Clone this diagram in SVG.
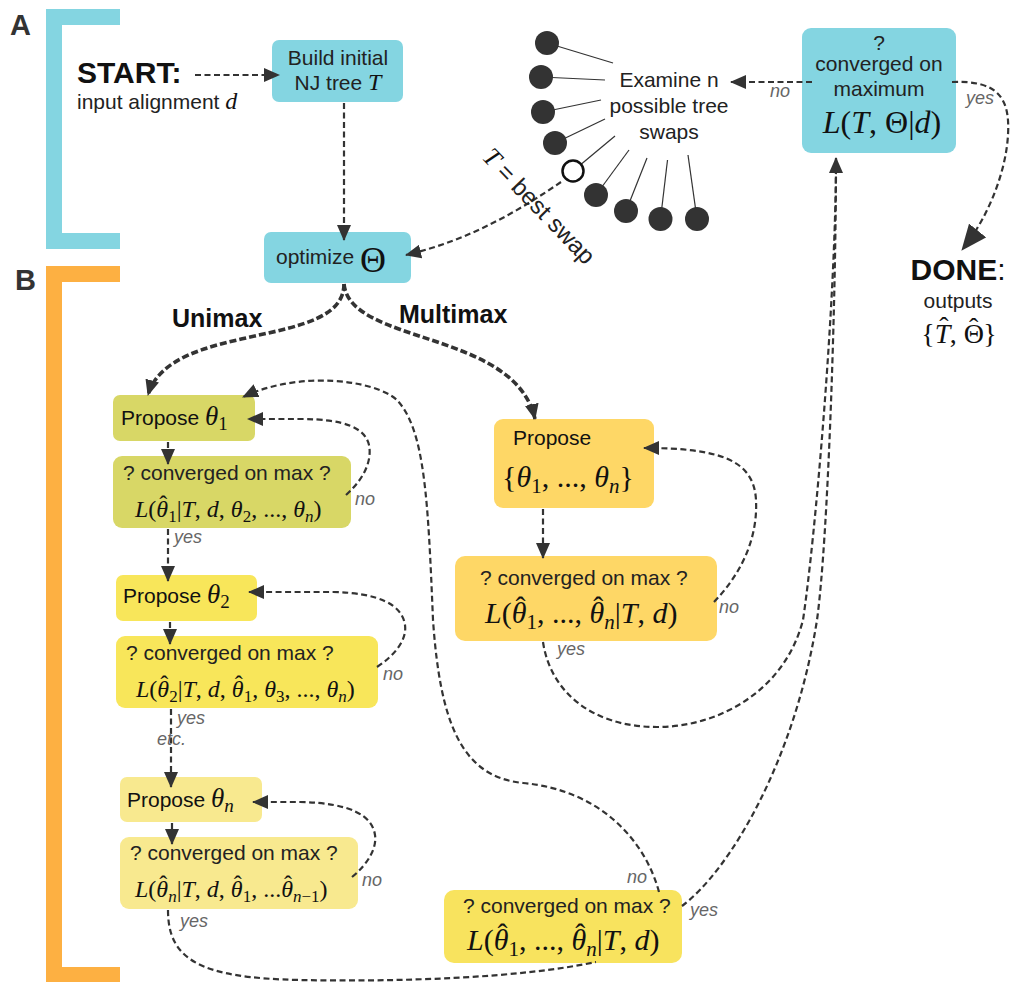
<svg xmlns="http://www.w3.org/2000/svg" width="1011" height="982" viewBox="0 0 1011 982">
<defs>
<style>
.t{font-family:"Liberation Sans",Arial,sans-serif;font-size:21px;fill:#222}
.k{fill:#111}
.b{font-weight:bold}
.m{font-family:"Liberation Serif","Times New Roman",serif;fill:#111}
.i{font-style:italic}
.lb{font-family:"Liberation Sans",Arial,sans-serif;font-size:18px;font-style:italic;fill:#666}
.cn{fill:none;stroke:#333;stroke-width:2.2;stroke-dasharray:6 3.5}
.th{stroke-width:3.6;stroke-dasharray:7 3}
.tl{stroke:#333;stroke-width:1.2}
.dot{fill:#333}
.cy{fill:#84d5e1}.ol{fill:#d8d766}.ye{fill:#f8e65a}.ly{fill:#f8e98f}.go{fill:#fed766}.yb{fill:#f8e35e}
.hd{font-family:"Liberation Sans",Arial,sans-serif;font-weight:bold;font-size:29px;fill:#333}
.big{font-size:30px}
.br{font-size:25px}
</style>
<marker id="ah" viewBox="0 0 16 14" refX="15" refY="7" markerWidth="16" markerHeight="14" markerUnits="userSpaceOnUse" orient="auto"><path d="M0,0 L16,7 L0,14 z" fill="#333"/></marker>
<marker id="ahL" viewBox="0 0 26 22" refX="25" refY="11" markerWidth="26" markerHeight="22" markerUnits="userSpaceOnUse" orient="auto"><path d="M0,0 L26,11 L0,22 z" fill="#333"/></marker>
</defs>
<rect width="1011" height="982" fill="#fff"/>

<g id="bracket-A" class="cy">
<rect x="46" y="9" width="16" height="240"/>
<rect x="46" y="9" width="74" height="16"/>
<rect x="46" y="233" width="74" height="16"/>
<text class="hd" x="10" y="35">A</text>
</g>
<g id="bracket-B" fill="#fdb042">
<rect x="46" y="266" width="16" height="716"/>
<rect x="46" y="266" width="74" height="16"/>
<rect x="46" y="967" width="74" height="15"/>
<text class="hd" x="15" y="290">B</text>
</g>

<g id="start">
<text class="t b k big" x="77" y="83">START:</text>
<text class="t" x="77" y="109">input alignment <tspan class="m i" font-size="24">d</tspan></text>
</g>

<g id="build">
<rect class="cy" x="272" y="40" width="131" height="62" rx="7"/>
<text class="t" x="338" y="65" text-anchor="middle">Build initial</text>
<text class="t" x="338" y="90" text-anchor="middle">NJ tree <tspan class="m i" font-size="24">T</tspan></text>
</g>

<g id="optimize">
<rect class="cy" x="264" y="232" width="147" height="51" rx="7"/>
<text class="t" x="276" y="264">optimize <tspan class="m" font-size="36" dy="8">Θ</tspan></text>
</g>

<g id="swaps">
<g class="tl">
<line x1="547" y1="43" x2="613" y2="63"/>
<line x1="541" y1="77" x2="605" y2="80"/>
<line x1="543" y1="112" x2="601" y2="100"/>
<line x1="555" y1="143" x2="605" y2="119"/>
<line x1="573" y1="171" x2="615" y2="136"/>
<line x1="596" y1="195" x2="629" y2="150"/>
<line x1="626" y1="211" x2="647" y2="158"/>
<line x1="660.5" y1="219" x2="667.5" y2="160"/>
<line x1="697" y1="219" x2="688" y2="155"/>
</g>
<g class="dot">
<circle cx="547" cy="43" r="12"/>
<circle cx="541" cy="77" r="12"/>
<circle cx="543" cy="112" r="12"/>
<circle cx="555" cy="143" r="12"/>
<circle cx="596" cy="195" r="12"/>
<circle cx="626" cy="211" r="12"/>
<circle cx="660.5" cy="219" r="12"/>
<circle cx="697" cy="219" r="12"/>
</g>
<circle cx="573" cy="171" r="10.5" fill="#fff" stroke="#111" stroke-width="2.5"/>
<text class="t" x="669" y="87" text-anchor="middle">Examine n</text>
<text class="t" x="669" y="113" text-anchor="middle">possible tree</text>
<text class="t" x="669" y="139" text-anchor="middle">swaps</text>
</g>

<g id="converged-top">
<rect class="cy" x="802" y="28" width="154" height="125" rx="9"/>
<text class="t" x="879" y="50" text-anchor="middle">?</text>
<text class="t" x="879" y="71" text-anchor="middle">converged on</text>
<text class="t" x="879" y="96" text-anchor="middle">maximum</text>
<text class="m" x="882" y="133" font-size="32" text-anchor="middle"><tspan class="i">L</tspan>(<tspan class="i">T</tspan>, Θ|<tspan class="i">d</tspan>)</text>
</g>

<g id="done">
<text class="t b k big" x="958" y="280" text-anchor="middle">DONE<tspan font-weight="normal">:</tspan></text>
<text class="t" x="958" y="308" text-anchor="middle">outputs</text>
<text class="m" x="959" y="343" font-size="28" text-anchor="middle">{<tspan class="i">T</tspan><tspan dx="-11" dy="-7">ˆ</tspan><tspan dx="1" dy="7">, Θ</tspan><tspan dx="-15" dy="-6">ˆ</tspan><tspan dx="5" dy="6">}</tspan></text>
</g>

<g id="labels-branch">
<text class="t b k br" x="172" y="327">Unimax</text>
<text class="t b k br" x="399" y="323">Multimax</text>
</g>

<g id="propose-1">
<rect class="ol" x="113" y="395" width="142" height="46" rx="7"/>
<text class="t k" x="121" y="425">Propose <tspan class="m i" font-size="27">θ</tspan><tspan class="m" font-size="19" dy="5">1</tspan></text>
</g>
<g id="converged-1">
<rect class="ol" x="113" y="456" width="238" height="72" rx="9"/>
<text class="t" x="123" y="480">? converged on max ?</text>
<text class="m" x="135" y="517" font-size="24"><tspan class="i">L</tspan>(<tspan class="i">θ</tspan><tspan dx="-9" dy="-5">ˆ</tspan><tspan font-size="17" dx="1" dy="10">1</tspan><tspan dy="-5">|</tspan><tspan class="i">T</tspan>, <tspan class="i">d</tspan>, <tspan class="i">θ</tspan><tspan font-size="17" dy="5">2</tspan><tspan dy="-5">, ..., </tspan><tspan class="i">θ</tspan><tspan class="i" font-size="17" dy="5">n</tspan><tspan dy="-5">)</tspan></text>
</g>

<g id="propose-2">
<rect class="ye" x="116" y="575" width="141" height="46" rx="7"/>
<text class="t k" x="123" y="603">Propose <tspan class="m i" font-size="27">θ</tspan><tspan class="m" font-size="19" dy="5">2</tspan></text>
</g>
<g id="converged-2">
<rect class="ye" x="116" y="636" width="262" height="72" rx="9"/>
<text class="t" x="126" y="660">? converged on max ?</text>
<text class="m" x="136" y="697" font-size="24"><tspan class="i">L</tspan>(<tspan class="i">θ</tspan><tspan dx="-9" dy="-5">ˆ</tspan><tspan font-size="17" dx="1" dy="10">2</tspan><tspan dy="-5">|</tspan><tspan class="i">T</tspan>, <tspan class="i">d</tspan>, <tspan class="i">θ</tspan><tspan dx="-9" dy="-5">ˆ</tspan><tspan font-size="17" dx="1" dy="10">1</tspan><tspan dy="-5">, </tspan><tspan class="i">θ</tspan><tspan font-size="17" dy="5">3</tspan><tspan dy="-5">, ..., </tspan><tspan class="i">θ</tspan><tspan class="i" font-size="17" dy="5">n</tspan><tspan dy="-5">)</tspan></text>
</g>

<g id="propose-n">
<rect class="ly" x="120" y="777" width="142" height="45" rx="7"/>
<text class="t k" x="127" y="807">Propose <tspan class="m i" font-size="27">θ</tspan><tspan class="m i" font-size="19" dy="5">n</tspan></text>
</g>
<g id="converged-n">
<rect class="ly" x="120" y="837" width="238" height="72" rx="9"/>
<text class="t" x="130" y="860">? converged on max ?</text>
<text class="m" x="135" y="897" font-size="24"><tspan class="i">L</tspan>(<tspan class="i">θ</tspan><tspan dx="-9" dy="-5">ˆ</tspan><tspan class="i" font-size="17" dx="1" dy="10">n</tspan><tspan dy="-5">|</tspan><tspan class="i">T</tspan>, <tspan class="i">d</tspan>, <tspan class="i">θ</tspan><tspan dx="-9" dy="-5">ˆ</tspan><tspan font-size="17" dx="1" dy="10">1</tspan><tspan dy="-5">, ...</tspan><tspan class="i">θ</tspan><tspan dx="-9" dy="-5">ˆ</tspan><tspan font-size="17" dx="1" dy="10"><tspan class="i">n</tspan>−1</tspan><tspan dy="-5">)</tspan></text>
</g>

<g id="propose-multi">
<rect class="go" x="494" y="419" width="160" height="89" rx="9"/>
<text class="t k" x="513" y="445">Propose</text>
<text class="m" x="502" y="487" font-size="30">{<tspan class="i">θ</tspan><tspan font-size="21" dy="6">1</tspan><tspan dy="-6">, ..., </tspan><tspan class="i">θ</tspan><tspan class="i" font-size="21" dy="6">n</tspan><tspan dy="-6">}</tspan></text>
</g>
<g id="converged-multi">
<rect class="go" x="455" y="556" width="262" height="85" rx="10"/>
<text class="t" x="480" y="585">? converged on max ?</text>
<text class="m" x="485" y="623" font-size="30"><tspan class="i">L</tspan>(<tspan class="i">θ</tspan><tspan dx="-11" dy="-6">ˆ</tspan><tspan font-size="21" dx="1" dy="12">1</tspan><tspan dy="-6">, ..., </tspan><tspan class="i">θ</tspan><tspan dx="-11" dy="-6">ˆ</tspan><tspan class="i" font-size="21" dx="1" dy="12">n</tspan><tspan dy="-6">|</tspan><tspan class="i">T</tspan>, <tspan class="i">d</tspan>)</text>
</g>

<g id="converged-final">
<rect class="yb" x="444" y="890" width="238" height="73" rx="10"/>
<text class="t" x="463" y="913">? converged on max ?</text>
<text class="m" x="467" y="950" font-size="30"><tspan class="i">L</tspan>(<tspan class="i">θ</tspan><tspan dx="-11" dy="-6">ˆ</tspan><tspan font-size="21" dx="1" dy="12">1</tspan><tspan dy="-6">, ..., </tspan><tspan class="i">θ</tspan><tspan dx="-11" dy="-6">ˆ</tspan><tspan class="i" font-size="21" dx="1" dy="12">n</tspan><tspan dy="-6">|</tspan><tspan class="i">T</tspan>, <tspan class="i">d</tspan>)</text>
</g>

<g id="connectors">
<path class="cn" d="M195,75 L279,75" marker-end="url(#ah)"/>
<path class="cn" d="M344,103 L344,240" marker-end="url(#ah)"/>
<path class="cn" d="M561,182 C520,210 470,240 406,255" marker-end="url(#ah)"/>
<path class="cn" stroke-width="2.5" d="M812,82 L731,82" marker-end="url(#ah)"/>
<path class="cn" stroke-width="2.5" d="M952,82 C1000,80 1010,100 1008,135 C1006,170 990,215 962,250" marker-end="url(#ahL)"/>
<path class="cn th" d="M344,284 C344,350 170,320 148,395" marker-end="url(#ah)"/>
<path class="cn th" d="M344,284 C350,345 515,330 535,419" marker-end="url(#ah)"/>
<path class="cn" d="M168,442 L168,464" marker-end="url(#ah)"/>
<path class="cn" d="M346,495 C365,478 372,460 369,445 C365,428 345,419 300,419 L248,419" marker-end="url(#ah)"/>
<path class="cn" d="M168,529 L168,581" marker-end="url(#ah)"/>
<path class="cn" d="M170,622 L170,644" marker-end="url(#ah)"/>
<path class="cn" d="M377,667 C395,655 407,640 405,625 C402,605 380,593 333,592 L249,592" marker-end="url(#ah)"/>
<path class="cn" d="M171,709 L171,787" marker-end="url(#ah)"/>
<path class="cn" d="M172,823 L172,844" marker-end="url(#ah)"/>
<path class="cn" d="M352,877 C368,864 377,848 375,835 C372,815 350,803 300,802 L253,802" marker-end="url(#ah)"/>
<path class="cn" d="M168,910 C168,960 200,978 300,980 C400,982 520,978 596,962"/>
<path class="cn" d="M543,509 L543,558" marker-end="url(#ah)"/>
<path class="cn" d="M714,602 C740,575 758,540 756,500 C754,460 720,448 644,448" marker-end="url(#ah)"/>
<path class="cn" d="M543,642 C550,690 590,727 657,727 C720,727 785,690 803,620 C815,540 836,300 836,158" marker-end="url(#ah)"/>
<path class="cn" d="M682,906 C730,870 795,760 817,620 C828,540 836,300 836,158"/>
<path class="cn" d="M659,892 C645,840 600,790 523,783 C460,777 440,720 433,620 C428,500 425,430 397,400 C375,380 300,370 243,397" marker-end="url(#ah)"/>
</g>

<g id="connector-labels">
<text x="533" y="212" transform="rotate(46 533 212)" text-anchor="middle" class="t" style="font-size:24px"><tspan class="m i" font-size="26">T</tspan> = best swap</text>
<text class="lb" x="770" y="97">no</text>
<text class="lb" x="966" y="104">yes</text>
<text class="lb" x="355" y="505">no</text>
<text class="lb" x="174" y="543">yes</text>
<text class="lb" x="383" y="680">no</text>
<text class="lb" x="177" y="724">yes</text>
<text class="lb" x="157" y="745">etc.</text>
<text class="lb" x="362" y="886">no</text>
<text class="lb" x="180" y="927">yes</text>
<text class="lb" x="719" y="613">no</text>
<text class="lb" x="557" y="655">yes</text>
<text class="lb" x="627" y="883">no</text>
<text class="lb" x="690" y="916">yes</text>
</g>
</svg>
